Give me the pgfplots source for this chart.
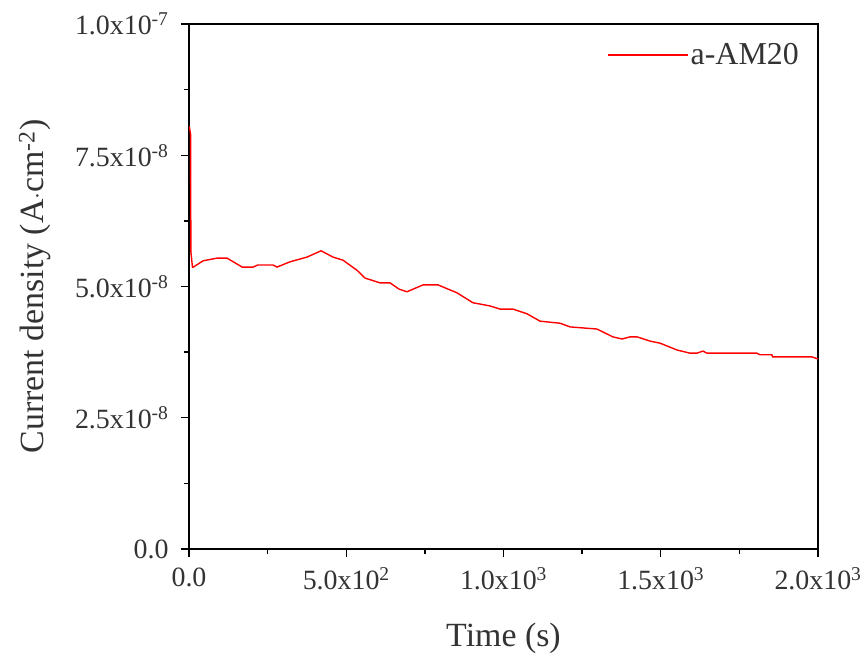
\documentclass[border=0pt]{standalone}
\usepackage{pgfplots}
\pgfplotsset{compat=1.18}
\usepackage{fontspec}
\setmainfont{Liberation Serif}
\definecolor{txt}{HTML}{333333}
\begin{document}
\begin{tikzpicture}
\useasboundingbox (-189bp,-110bp) rectangle (678bp,549bp);
\begin{axis}[
  scale only axis,
  width=629bp, height=525bp,
  xmin=0, xmax=2000, ymin=0, ymax=1e-7,
  axis line style={line width=1.3bp, black},
  tick pos=left, tick align=outside,
  major tick length=8bp, minor tick length=4.5bp,
  every tick/.style={line width=1.3bp, black},
  xtick={0,500,1000,1500,2000},
  xticklabels={0.0, 5.0x10\textsuperscript{2}, 1.0x10\textsuperscript{3}, 1.5x10\textsuperscript{3}, 2.0x10\textsuperscript{3}},
  ytick={0,2.5e-8,5e-8,7.5e-8,1e-7},
  yticklabels={0.0, 2.5x10\textsuperscript{-8}, 5.0x10\textsuperscript{-8}, 7.5x10\textsuperscript{-8}, 1.0x10\textsuperscript{-7}},
  scaled y ticks=false, scaled x ticks=false,
  minor x tick num=1, minor y tick num=1,
  tick label style={font=\fontsize{28}{31}\selectfont, text=txt},
  xticklabel style={yshift=-7bp},
  yticklabel style={xshift=-9bp},
  label style={font=\fontsize{34}{38}\selectfont, text=txt},
  xlabel={Time (s)},
  ylabel={Current density (A$\cdot$cm\textsuperscript{-2})},
  xlabel style={at={(axis description cs:0.5,-0.1695)}, anchor=center},
  ylabel style={at={(axis description cs:-0.2448,0.5)}, anchor=center},
  legend style={draw=none, fill=none, at={(axis description cs:0.66,0.941)}, anchor=west,
    font=\fontsize{32}{36}\selectfont, text=txt},
  legend cell align=left,
  legend image code/.code={\draw[#1] (0bp,0bp) -- (72bp,0bp); \path (0bp,0bp) -- (80bp,0bp);},
]
\addplot[red, line width=1.4bp] coordinates {
(1,8.05e-8) (5,7.9e-8) (6,5.66e-8) (11,5.37e-8) (14,5.37e-8)
(45,5.49e-8) (89,5.54e-8) (121,5.54e-8) (169,5.37e-8) (204,5.37e-8)
(219,5.41e-8) (267,5.41e-8) (280,5.37e-8) (321,5.47e-8) (375,5.56e-8)
(420,5.68e-8) (458,5.56e-8) (490,5.50e-8) (534,5.31e-8) (560,5.16e-8)
(607,5.07e-8) (639,5.07e-8) (668,4.95e-8) (693,4.90e-8) (744,5.03e-8)
(792,5.03e-8) (852,4.88e-8) (903,4.69e-8) (957,4.63e-8) (989,4.57e-8)
(1030,4.57e-8) (1075,4.48e-8) (1116,4.34e-8) (1180,4.30e-8) (1212,4.23e-8)
(1297,4.19e-8) (1348,4.04e-8) (1377,4.00e-8) (1402,4.04e-8) (1425,4.04e-8)
(1466,3.96e-8) (1498,3.92e-8) (1552,3.79e-8) (1593,3.73e-8) (1615,3.73e-8)
(1634,3.77e-8) (1647,3.73e-8) (1806,3.73e-8) (1815,3.70e-8) (1853,3.70e-8)
(1856,3.66e-8) (1980,3.66e-8) (2000,3.62e-8)
};
\addlegendentry{a-AM20}
\end{axis}
\end{tikzpicture}
\end{document}
